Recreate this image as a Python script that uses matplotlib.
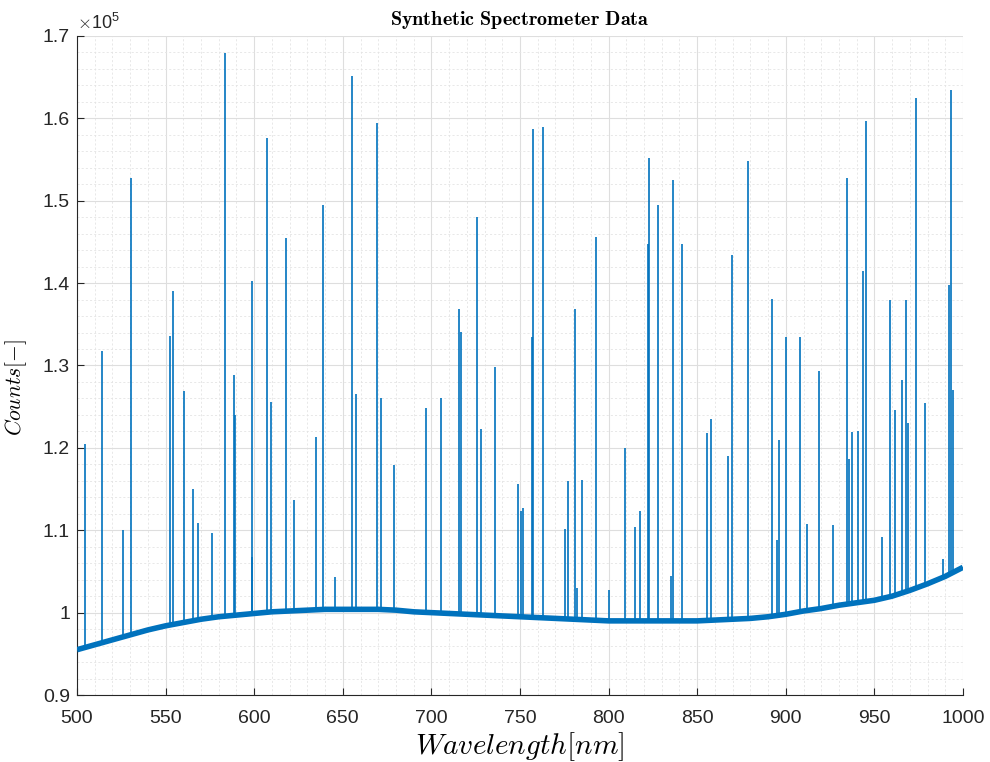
import matplotlib
matplotlib.use('Agg')
import matplotlib.pyplot as plt
from matplotlib.patches import Polygon
from matplotlib.ticker import MultipleLocator, FuncFormatter

# baseline of the spectrum (read every 10 nm)
base_nm = list(range(500, 1001, 10))
base_counts = [95500, 96100, 96700, 97300, 97900, 98400, 98800, 99200, 99500, 99700,
               99900, 100100, 100200, 100300, 100400, 100400, 100400, 100400, 100300, 100100,
               100000, 99900, 99800, 99700, 99600, 99500, 99400, 99300, 99200, 99100,
               99000, 99000, 99000, 99000, 99000, 99000, 99100, 99200, 99300, 99500,
               99800, 100200, 100500, 100900, 101200, 101500, 102000, 102700, 103500, 104400,
               105500]

# emission lines
peak_nm = [504.7, 514.3, 526.1, 530.7, 552.7, 554.2, 560.4, 565.5, 568.5, 576.2,
           583.7, 588.4, 589.4, 598.6, 598.8, 607.0, 609.7, 618.1, 622.6, 634.9,
           638.8, 645.8, 655.4, 657.3, 669.5, 671.8, 678.7, 697.0, 705.4, 715.4,
           716.7, 725.7, 728.2, 735.9, 749.1, 750.6, 751.7, 757.0, 757.5, 763.2,
           775.6, 777.3, 781.0, 782.3, 785.2, 793.1, 800.4, 809.3, 814.9, 817.7,
           822.0, 822.8, 828.0, 835.0, 836.2, 841.2, 855.3, 857.6, 867.3, 869.6,
           878.8, 892.0, 894.8, 896.1, 900.4, 908.3, 911.9, 918.5, 926.4, 934.7,
           935.5, 937.2, 940.6, 943.8, 945.3, 954.3, 959.0, 961.5, 965.6, 968.1,
           969.2, 973.5, 978.6, 988.9, 992.3, 993.0, 994.2]
peak_counts = [120500, 131800, 110000, 152800, 133600, 139100, 126900, 115000, 110900, 109700,
               167900, 128800, 124000, 106800, 140200, 157600, 125600, 145500, 113700, 121300,
               149500, 104300, 165100, 126600, 159400, 126000, 117900, 124900, 126100, 136800,
               134100, 148000, 122300, 129800, 115600, 112300, 112700, 133500, 158700, 158900,
               110200, 116000, 136900, 103000, 116100, 145600, 102800, 120000, 110400, 112300,
               144800, 155200, 149500, 104400, 152500, 144700, 121800, 123500, 119000, 143400,
               154800, 138100, 108800, 120900, 133400, 133400, 110700, 129300, 110600, 152800,
               118600, 121900, 122000, 141500, 159700, 109200, 138000, 124600, 128200, 138000,
               123000, 162500, 125400, 106500, 139800, 163400, 127000]

x_ticks = [500, 550, 600, 650, 700, 750, 800, 850, 900, 950, 1000]

plt.rcParams['font.family'] = ['Liberation Sans', 'DejaVu Sans']
plt.rcParams['mathtext.fontset'] = 'cm'

blue = '#0072BD'
dark = '#262626'

fig = plt.figure(figsize=(9.9, 7.62), dpi=100)
ax = fig.add_axes([0.0778, 0.0879, 0.8949, 0.8649])

ax.plot(base_nm, base_counts, color=blue, lw=4.0, zorder=3,
        solid_joinstyle='round', solid_capstyle='butt')

# spikes rise from the baseline: clip them to the region above it
above = Polygon(list(zip(base_nm, base_counts)) + [(1000, 200000), (500, 200000)],
                closed=True, transform=ax.transData)
spikes = ax.vlines(peak_nm, 90000, peak_counts, colors=blue, lw=1.2, zorder=2)
spikes.set_clip_path(above)

ax.set_xlim(500, 1000)
ax.set_ylim(90000, 170000)
ax.set_xticks(x_ticks)
ax.xaxis.set_minor_locator(MultipleLocator(10))
ax.yaxis.set_major_locator(MultipleLocator(10000))
ax.yaxis.set_minor_locator(MultipleLocator(2000))
ax.yaxis.set_major_formatter(FuncFormatter(lambda v, p: f'{v / 1e5:g}'))

ax.grid(which='major', color='#dedede', lw=0.8)
ax.grid(which='minor', color='#e4e4e4', lw=0.6, ls=(0, (2.5, 2.5)))
ax.set_axisbelow(True)

for s in ['top', 'right']:
    ax.spines[s].set_visible(False)
for s in ['left', 'bottom']:
    ax.spines[s].set_color(dark)
    ax.spines[s].set_linewidth(0.8)
ax.tick_params(which='major', direction='in', length=5, color=dark,
               labelsize=14, labelcolor=dark)
ax.tick_params(axis='x', which='major', pad=11)
ax.tick_params(axis='y', which='major', pad=5)
ax.tick_params(which='minor', length=0)

ax.text(0.0, 1.004, r'$\times\mathregular{10^{5}}$', transform=ax.transAxes,
        ha='left', va='bottom', fontsize=13, color=dark)

ax.set_title(r'$\mathbf{Synthetic\ Spectrometer\ Data}$', fontsize=14.5, pad=8)
ax.set_xlabel(r'$Wavelength[nm]$', fontsize=21, labelpad=2)
ax.set_ylabel(r'$Counts[-]$', fontsize=15.5)
ax.yaxis.set_label_coords(-0.054, 0.467)

fig.savefig('out.png', dpi=100)
